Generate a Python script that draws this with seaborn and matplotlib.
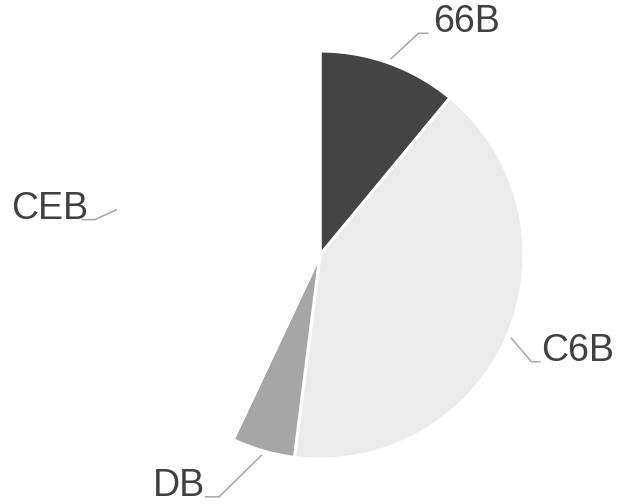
import numpy as np
import matplotlib
matplotlib.use("Agg")
import matplotlib.pyplot as plt
import seaborn as sns

categories = ["66B", "C6B", "DB", "CEB"]
values = [11, 41, 5, 43]
colors = ["#444444", "#ebebeb", "#a6a6a6", "#ffffff"]

sns.set_theme(style="white")
plt.rcParams["font.family"] = ["Liberation Sans", "DejaVu Sans"]

W, H = 618, 504
cx, cy, R = 320, 255, 204  # pixel layout
fig = plt.figure(figsize=(W / 100, H / 100), dpi=100)
ax = fig.add_axes([0, 0, 1, 1])

wedges, _ = ax.pie(values, colors=colors, startangle=90, counterclock=False,
                   radius=1.0, wedgeprops=dict(edgecolor="white", linewidth=2.2))
ax.set_xlim(-cx / R, (W - cx) / R)
ax.set_ylim(-(H - cy) / R, cy / R)
ax.set_aspect("equal")
ax.axis("off")

# leader layout (offsets in axis units)
elbow = {"66B": (0.137, 0.127), "C6B": (0.100, -0.118),
         "DB": (-0.21, -0.206), "CEB": (-0.108, -0.049)}
hlen = {"66B": 0.05, "C6B": 0.045, "DB": -0.07, "CEB": -0.065}
gap = {"66B": 0.02, "C6B": 0.005, "DB": 0.0, "CEB": 0.03}
for w, lab in zip(wedges, categories):
    mid = np.deg2rad((w.theta1 + w.theta2) / 2)
    x0, y0 = 1.02 * np.cos(mid), 1.02 * np.sin(mid)
    ex, ey = x0 + elbow[lab][0], y0 + elbow[lab][1]
    hx = ex + hlen[lab]
    ax.plot([x0, ex, hx], [y0, ey, ey], color="#a6a6a6", lw=1.1,
            solid_capstyle="butt", clip_on=False)
    right = hlen[lab] > 0
    ax.text(hx + (gap[lab] if right else gap[lab]), ey + 0.005, lab,
            ha="left" if right else "right", va="baseline",
            fontsize=27, color="#404040")

fig.savefig("out.png", dpi=100)
